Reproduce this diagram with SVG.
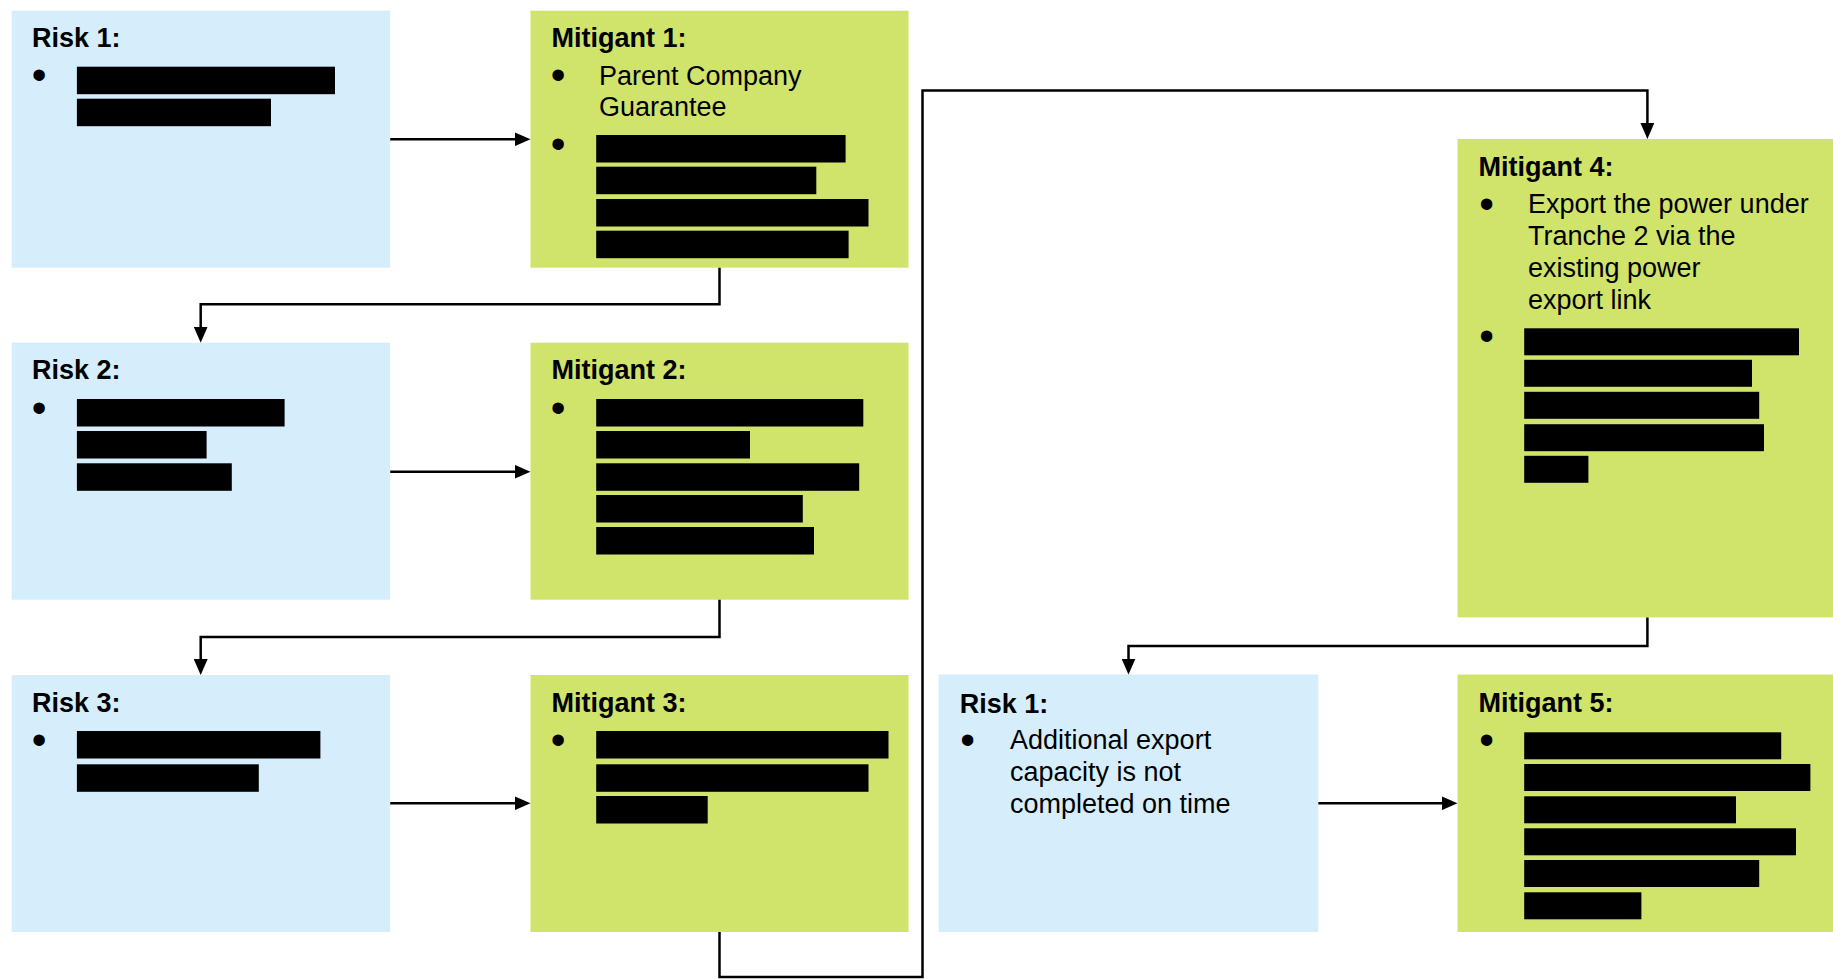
<svg xmlns="http://www.w3.org/2000/svg" width="1833" height="979" viewBox="0 0 1833 979">
<defs>
<style>
.risk{fill:#D6EEFC}
.mit{fill:#D0E36B}
.t{font-family:"Liberation Sans",Arial,sans-serif;font-size:27px;fill:#000}
.h{font-weight:bold}
.b{text-anchor:middle;font-size:42px}
.r{fill:#000}
.c{fill:none;stroke:#000;stroke-width:2.5}
</style>
<marker id="ah" markerUnits="userSpaceOnUse" viewBox="0 0 16 14" markerWidth="16" markerHeight="14" refX="6" refY="7" orient="auto"><path d="M0,0 L16,7 L0,14 z" fill="#000"/></marker>
</defs>
<rect width="1833" height="979" fill="#fff"/>

<g id="risk1">
<rect class="risk" x="11.7" y="10.7" width="378.5" height="257"/>
<text class="t h" x="32" y="47.3">Risk 1:</text>
<text class="t b" x="39" y="88.5">•</text>
<rect class="r" x="76.9" y="66.7" width="258.1" height="27.5"/>
<rect class="r" x="76.9" y="98.7" width="194.1" height="27.5"/>
</g>

<g id="mitigant1">
<rect class="mit" x="530.5" y="10.7" width="378" height="257"/>
<text class="t h" x="551.5" y="47.3">Mitigant 1:</text>
<text class="t b" x="558" y="88.8">•</text>
<text class="t" x="599" y="84.5">Parent Company</text>
<text class="t" x="599" y="116.3">Guarantee</text>
<text class="t b" x="558" y="157.8">•</text>
<rect class="r" x="596.2" y="135" width="249.4" height="27.5"/>
<rect class="r" x="596.2" y="166.7" width="220.1" height="27.5"/>
<rect class="r" x="596.2" y="199" width="272.3" height="27.5"/>
<rect class="r" x="596.2" y="230.7" width="252.4" height="27.5"/>
</g>

<g id="risk2">
<rect class="risk" x="11.7" y="342.7" width="378.5" height="257"/>
<text class="t h" x="32" y="379.3">Risk 2:</text>
<text class="t b" x="39" y="421.8">•</text>
<rect class="r" x="76.9" y="399" width="207.7" height="27.5"/>
<rect class="r" x="76.9" y="431" width="129.7" height="27.5"/>
<rect class="r" x="76.9" y="463.3" width="154.9" height="27.5"/>
</g>

<g id="mitigant2">
<rect class="mit" x="530.5" y="342.7" width="378" height="257"/>
<text class="t h" x="551.5" y="379.3">Mitigant 2:</text>
<text class="t b" x="558" y="421.8">•</text>
<rect class="r" x="596.2" y="399" width="267.1" height="27.5"/>
<rect class="r" x="596.2" y="431" width="153.8" height="27.5"/>
<rect class="r" x="596.2" y="463.3" width="263" height="27.5"/>
<rect class="r" x="596.2" y="495" width="206.6" height="27.5"/>
<rect class="r" x="596.2" y="527" width="217.8" height="27.5"/>
</g>

<g id="risk3">
<rect class="risk" x="11.7" y="675" width="378.5" height="257"/>
<text class="t h" x="32" y="711.6">Risk 3:</text>
<text class="t b" x="39" y="753.8">•</text>
<rect class="r" x="76.9" y="731" width="243.5" height="27.5"/>
<rect class="r" x="76.9" y="764.3" width="181.9" height="27.5"/>
</g>

<g id="mitigant3">
<rect class="mit" x="530.5" y="675" width="378" height="257"/>
<text class="t h" x="551.5" y="711.6">Mitigant 3:</text>
<text class="t b" x="558" y="753.8">•</text>
<rect class="r" x="596.2" y="731" width="292.3" height="27.5"/>
<rect class="r" x="596.2" y="764.3" width="272.3" height="27.5"/>
<rect class="r" x="596.2" y="796" width="111.5" height="27.5"/>
</g>

<g id="mitigant4">
<rect class="mit" x="1457.5" y="138.9" width="380" height="478.5"/>
<text class="t h" x="1478.5" y="175.8">Mitigant 4:</text>
<text class="t b" x="1486.7" y="217.8">•</text>
<text class="t" x="1528" y="213">Export the power under</text>
<text class="t" x="1528" y="245">Tranche 2 via the</text>
<text class="t" x="1528" y="277">existing power</text>
<text class="t" x="1528" y="309">export link</text>
<text class="t b" x="1486.7" y="349.9">•</text>
<rect class="r" x="1524.2" y="328.3" width="274.8" height="27"/>
<rect class="r" x="1524.2" y="359.8" width="227.8" height="27"/>
<rect class="r" x="1524.2" y="391.8" width="235" height="27"/>
<rect class="r" x="1524.2" y="424.2" width="239.8" height="27"/>
<rect class="r" x="1524.2" y="455.8" width="64.2" height="27"/>
</g>

<g id="risk1b">
<rect class="risk" x="938.7" y="674.5" width="379.6" height="257.5"/>
<text class="t h" x="959.7" y="712.5">Risk 1:</text>
<text class="t b" x="967.5" y="754">•</text>
<text class="t" x="1010" y="749.3">Additional export</text>
<text class="t" x="1010" y="781">capacity is not</text>
<text class="t" x="1010" y="812.7">completed on time</text>
</g>

<g id="mitigant5">
<rect class="mit" x="1457.5" y="674.5" width="380" height="257.5"/>
<text class="t h" x="1478.5" y="712">Mitigant 5:</text>
<text class="t b" x="1486.7" y="753.5">•</text>
<rect class="r" x="1524.2" y="732.3" width="257" height="27"/>
<rect class="r" x="1524.2" y="764" width="286.2" height="27"/>
<rect class="r" x="1524.2" y="796.3" width="211.8" height="27"/>
<rect class="r" x="1524.2" y="828.3" width="271.8" height="27"/>
<rect class="r" x="1524.2" y="860" width="235" height="27"/>
<rect class="r" x="1524.2" y="892.3" width="117.2" height="27"/>
</g>

<g id="connectors">
<path class="c" marker-end="url(#ah)" d="M390.2,139.3 H520.5"/>
<path class="c" marker-end="url(#ah)" d="M390.2,471.7 H520.5"/>
<path class="c" marker-end="url(#ah)" d="M390.2,803.3 H520.5"/>
<path class="c" marker-end="url(#ah)" d="M1318.3,803.3 H1447.5"/>
<path class="c" marker-end="url(#ah)" d="M719.5,267.7 V304.3 H200.7 V332.7"/>
<path class="c" marker-end="url(#ah)" d="M719.5,599.7 V637 H200.7 V665"/>
<path class="c" marker-end="url(#ah)" d="M719.5,932 V977 H922.5 V90.5 H1647.4 V128.9"/>
<path class="c" marker-end="url(#ah)" d="M1647.4,617.4 V646 H1128.5 V664.5"/>
</g>
</svg>
